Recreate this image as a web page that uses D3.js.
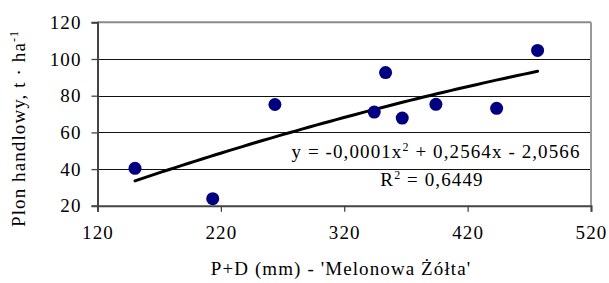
<!DOCTYPE html>
<html><head><meta charset="utf-8">
<script src="https://cdn.jsdelivr.net/npm/d3@7/dist/d3.min.js"></script>
<style>body{margin:0;background:#fff}svg{display:block}</style>
</head><body>
<script>
const xValues = [150.4, 213.4, 263.8, 344.3, 353.5, 367.0, 394.3, 443.5, 476.7];
const yValues = [40.4, 23.9, 75.2, 71.1, 92.6, 67.8, 75.3, 73.1, 104.7];
const xTicks = [120, 220, 320, 420, 520];
const yTicks = [20, 40, 60, 80, 100, 120];
const equationText = ["y = -0,0001x", "2", " + 0,2564x - 2,0566"];
const r2Text = ["R", "2", " = 0,6449"];
const xTitle = "P+D (mm) - 'Melonowa Żółta'";
const yTitle = "Plon handlowy, t  · ha";

const W = 609, H = 283;
const m = {l: 97.5, r: 591, t: 22.3, b: 205.8};
const font = "'Liberation Serif','Times New Roman',serif";
const FS = 19, LS = 1.1;

const svg = d3.select("body").append("svg").attr("width", W).attr("height", H);
const x = d3.scaleLinear().domain([120, 520]).range([m.l, m.r]);
const y = d3.scaleLinear().domain([20, 120]).range([m.b, m.t]);

// gridlines
svg.append("g").selectAll("line").data(yTicks.filter(d => d > 20 && d < 120)).join("line")
  .attr("x1", m.l).attr("x2", m.r).attr("y1", d => Math.round(y(d)) + 0.5).attr("y2", d => Math.round(y(d)) + 0.5)
  .attr("stroke", "#111").attr("stroke-width", 1);

// top and right border
svg.append("line").attr("x1", m.l).attr("x2", m.r).attr("y1", m.t).attr("y2", m.t).attr("stroke", "#8a8a8a").attr("stroke-width", 2);
svg.append("line").attr("x1", m.r).attr("x2", m.r).attr("y1", m.t).attr("y2", m.b).attr("stroke", "#999").attr("stroke-width", 2);

// axes
const xAxis = d3.axisBottom(x).tickValues(xTicks).tickSize(6).tickPadding(14);
const yAxis = d3.axisLeft(y).tickValues(yTicks).tickSize(6).tickPadding(10);
const gx = svg.append("g").attr("transform", `translate(0,${m.b})`).call(xAxis);
const gy = svg.append("g").attr("transform", `translate(${m.l},0)`).call(yAxis);
[gx, gy].forEach(g => {
  g.select(".domain").attr("stroke", "#444").attr("stroke-width", 2);
  g.selectAll(".tick line").attr("stroke", "#444").attr("stroke-width", 1.3);
  g.selectAll(".tick text").attr("font-family", font).attr("font-size", FS)
    .attr("letter-spacing", LS).attr("fill", "#000");
});

// least-squares quadratic fit from data
function polyfit2(xs, ys) {
  const n = xs.length;
  let S = [0,0,0,0,0], T = [0,0,0];
  for (let i = 0; i < n; i++) {
    let p = 1;
    for (let k = 0; k < 5; k++) { S[k] += p; if (k < 3) T[k] += p * ys[i]; p *= xs[i]; }
  }
  const A = [[S[0],S[1],S[2],T[0]],[S[1],S[2],S[3],T[1]],[S[2],S[3],S[4],T[2]]];
  for (let i = 0; i < 3; i++) {
    for (let j = i + 1; j < 3; j++) {
      const f = A[j][i] / A[i][i];
      for (let k = i; k < 4; k++) A[j][k] -= f * A[i][k];
    }
  }
  const c = [0,0,0];
  for (let i = 2; i >= 0; i--) {
    let s = A[i][3];
    for (let k = i + 1; k < 3; k++) s -= A[i][k] * c[k];
    c[i] = s / A[i][i];
  }
  return c;
}
const coef = polyfit2(xValues, yValues);
const fx = d3.range(0, 61).map(i => d3.min(xValues) + i * (d3.max(xValues) - d3.min(xValues)) / 60);
const line = d3.line().x(d => x(d)).y(d => y(coef[0] + coef[1] * d + coef[2] * d * d));
svg.append("path").datum(fx).attr("d", line).attr("fill", "none").attr("stroke", "#000")
  .attr("stroke-width", 3).attr("stroke-linecap", "round");

// points
svg.append("g").selectAll("circle").data(xValues.map((v, i) => [v, yValues[i]])).join("circle")
  .attr("cx", d => x(d[0])).attr("cy", d => y(d[1])).attr("r", 6.5).attr("fill", "#000080");

// equation
function supText(parts, xx, yy) {
  const t = svg.append("text").attr("x", xx).attr("y", yy).attr("text-anchor", "middle")
    .attr("font-family", font).attr("font-size", FS).attr("letter-spacing", LS).attr("fill", "#000");
  t.append("tspan").text(parts[0]);
  t.append("tspan").attr("dy", -7).attr("font-size", 12).text(parts[1]);
  t.append("tspan").attr("dy", 7).text(parts[2]);
  return t;
}
supText(equationText, 436, 158);
supText(r2Text, 432, 186);

// titles
svg.append("text").attr("x", 341).attr("y", 275).attr("text-anchor", "middle")
  .attr("font-family", font).attr("font-size", FS).attr("letter-spacing", LS).text(xTitle);
const yt = svg.append("text").attr("transform", "translate(25,227) rotate(-90)").attr("text-anchor", "start")
  .attr("font-family", font).attr("font-size", FS).attr("letter-spacing", LS);
yt.append("tspan").text(yTitle);
yt.append("tspan").attr("dy", -7).attr("font-size", 12).text("-1");
</script>
</body></html>
